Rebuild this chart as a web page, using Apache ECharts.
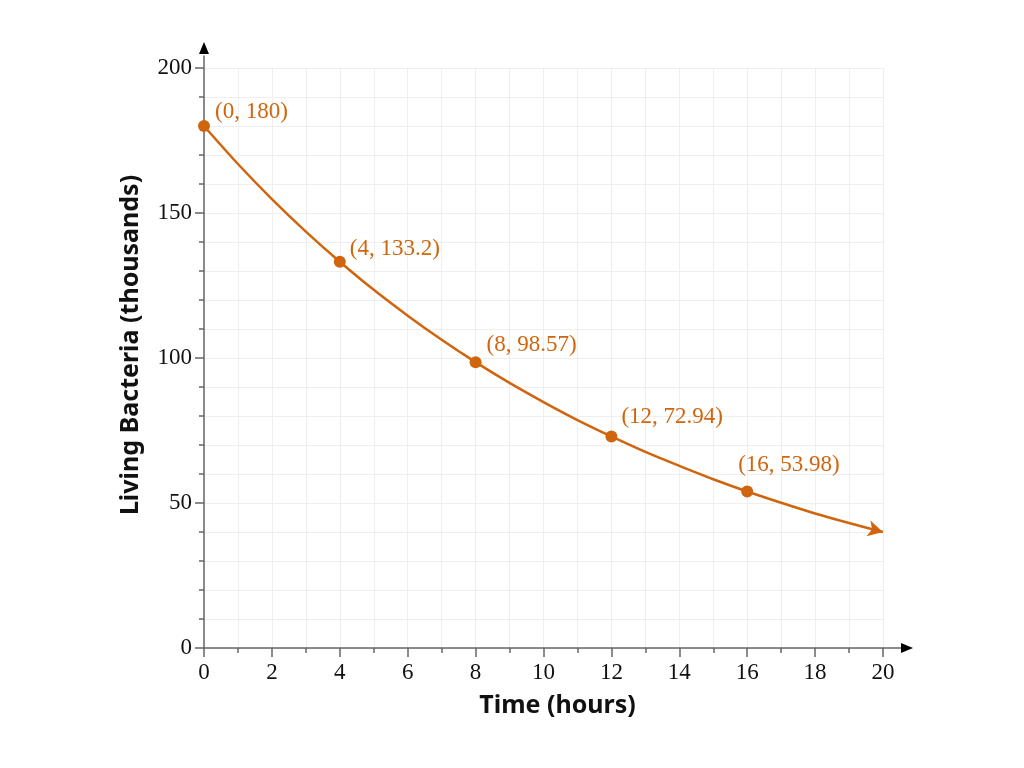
<!DOCTYPE html>
<html>
<head>
<meta charset="utf-8">
<script src="https://cdn.jsdelivr.net/npm/echarts@6/dist/echarts.min.js"></script>
<style>
  html, body { margin: 0; padding: 0; background: #fff; }
  #chart { width: 1024px; height: 768px; }
</style>
</head>
<body>
<div id="chart"></div>
<script>
// curve, one value per hour
const hours = [0, 1, 2, 3, 4, 5, 6, 7, 8, 9, 10, 11, 12, 13, 14, 15, 16, 17, 18, 19, 20];
const bacteria = [180, 166.9, 154.8, 143.6, 133.2, 123.5, 114.6, 106.3, 98.57, 91.4, 84.8,
                  78.6, 72.94, 67.6, 62.8, 58.2, 53.98, 50.1, 46.4, 43.1, 40.0];

// marked points
const markHours = [0, 4, 8, 12, 16];
const markValues = [180, 133.2, 98.57, 72.94, 53.98];
const markText = ['(0, 180)', '(4, 133.2)', '(8, 98.57)', '(12, 72.94)', '(16, 53.98)'];

// label placement for each marked point (style only)
const labelOffsets = [[5, -14], [4, -13], [5, -17], [4, -20], [-15, -27]];

const orange = '#d0650e';
const axisGray = '#666666';
const gridColor = '#efefef';
const serif = '"Liberation Serif", "DejaVu Serif", serif';
const sans = '"Noto Sans", sans-serif';

const chart = echarts.init(document.getElementById('chart'));

const curveData = hours.map((h, i) => {
  const item = { value: [h, bacteria[i]] };
  if (i === hours.length - 1) {
    item.symbol = 'arrow';
    item.symbolSize = [12, 15];
    item.symbolRotate = -104;
  }
  return item;
});

const markData = markHours.map((h, i) => ({
  value: [h, markValues[i]],
  label: {
    show: true,
    position: 'right',
    distance: 0,
    offset: labelOffsets[i],
    formatter: markText[i]
  }
}));

// axis line only (gray), and arrow head only (black) on extended grids
function lineAxis(grid) {
  return {
    gridIndex: grid, type: 'value', min: 0, max: 1,
    axisLine: { show: true, lineStyle: { color: axisGray, width: 1.5 } },
    axisTick: { show: false }, axisLabel: { show: false }, splitLine: { show: false }
  };
}
function headAxis(grid) {
  return {
    gridIndex: grid, type: 'value', min: 0, max: 1,
    axisLine: {
      show: true,
      symbol: ['none', 'triangle'],
      symbolSize: [10, 12],
      lineStyle: { color: '#000', width: 0, opacity: 1 }
    },
    axisTick: { show: false }, axisLabel: { show: false }, splitLine: { show: false }
  };
}

const option = {
  animation: false,
  grid: [
    { left: 204, right: 141, top: 68, bottom: 120 },
    { left: 204, right: 121, top: 56, bottom: 120 },
    { left: 204, right: 117, top: 48, bottom: 120 }
  ],
  xAxis: [
    {
      gridIndex: 0,
      type: 'value',
      min: 0,
      max: 20,
      interval: 2,
      name: 'Time (hours)',
      nameLocation: 'middle',
      nameGap: 45,
      nameTextStyle: { fontFamily: sans, fontWeight: 'bold', fontSize: 25, color: '#111', padding: [0, 0, 0, 28] },
      axisLine: { show: false },
      axisTick: { show: true, length: 9, lineStyle: { color: axisGray, width: 1.5 } },
      minorTick: { show: true, splitNumber: 2, length: 5, lineStyle: { color: axisGray, width: 1.5 } },
      axisLabel: { fontFamily: serif, fontSize: 23, color: '#111', margin: 13 },
      splitLine: { show: true, lineStyle: { color: gridColor, width: 1 } },
      minorSplitLine: { show: true, lineStyle: { color: gridColor, width: 1 } }
    },
    lineAxis(1),
    headAxis(2)
  ],
  yAxis: [
    {
      gridIndex: 0,
      type: 'value',
      min: 0,
      max: 200,
      interval: 50,
      name: 'Living Bacteria (thousands)',
      nameLocation: 'middle',
      nameGap: 61,
      nameTextStyle: { fontFamily: sans, fontWeight: 'bold', fontSize: 25, color: '#111', padding: [0, 0, 0, 26] },
      axisLine: { show: false },
      axisTick: { show: true, length: 9, lineStyle: { color: axisGray, width: 1.5 } },
      minorTick: { show: true, splitNumber: 5, length: 5, lineStyle: { color: axisGray, width: 1.5 } },
      axisLabel: { fontFamily: serif, fontSize: 23, color: '#111', margin: 12 },
      splitLine: { show: true, lineStyle: { color: gridColor, width: 1 } },
      minorSplitLine: { show: true, lineStyle: { color: gridColor, width: 1 } }
    },
    lineAxis(1),
    headAxis(2)
  ],
  series: [
    {
      type: 'line',
      xAxisIndex: 0,
      yAxisIndex: 0,
      data: curveData,
      smooth: 0.3,
      showSymbol: true,
      symbol: 'none',
      lineStyle: { color: orange, width: 2.5 },
      itemStyle: { color: orange, opacity: 1 },
      z: 3
    },
    {
      type: 'scatter',
      xAxisIndex: 0,
      yAxisIndex: 0,
      data: markData,
      symbol: 'circle',
      symbolSize: 12,
      itemStyle: { color: orange, opacity: 1 },
      label: { fontFamily: serif, fontSize: 23, color: orange },
      z: 4
    }
  ]
};

chart.setOption(option);
</script>
</body>
</html>
